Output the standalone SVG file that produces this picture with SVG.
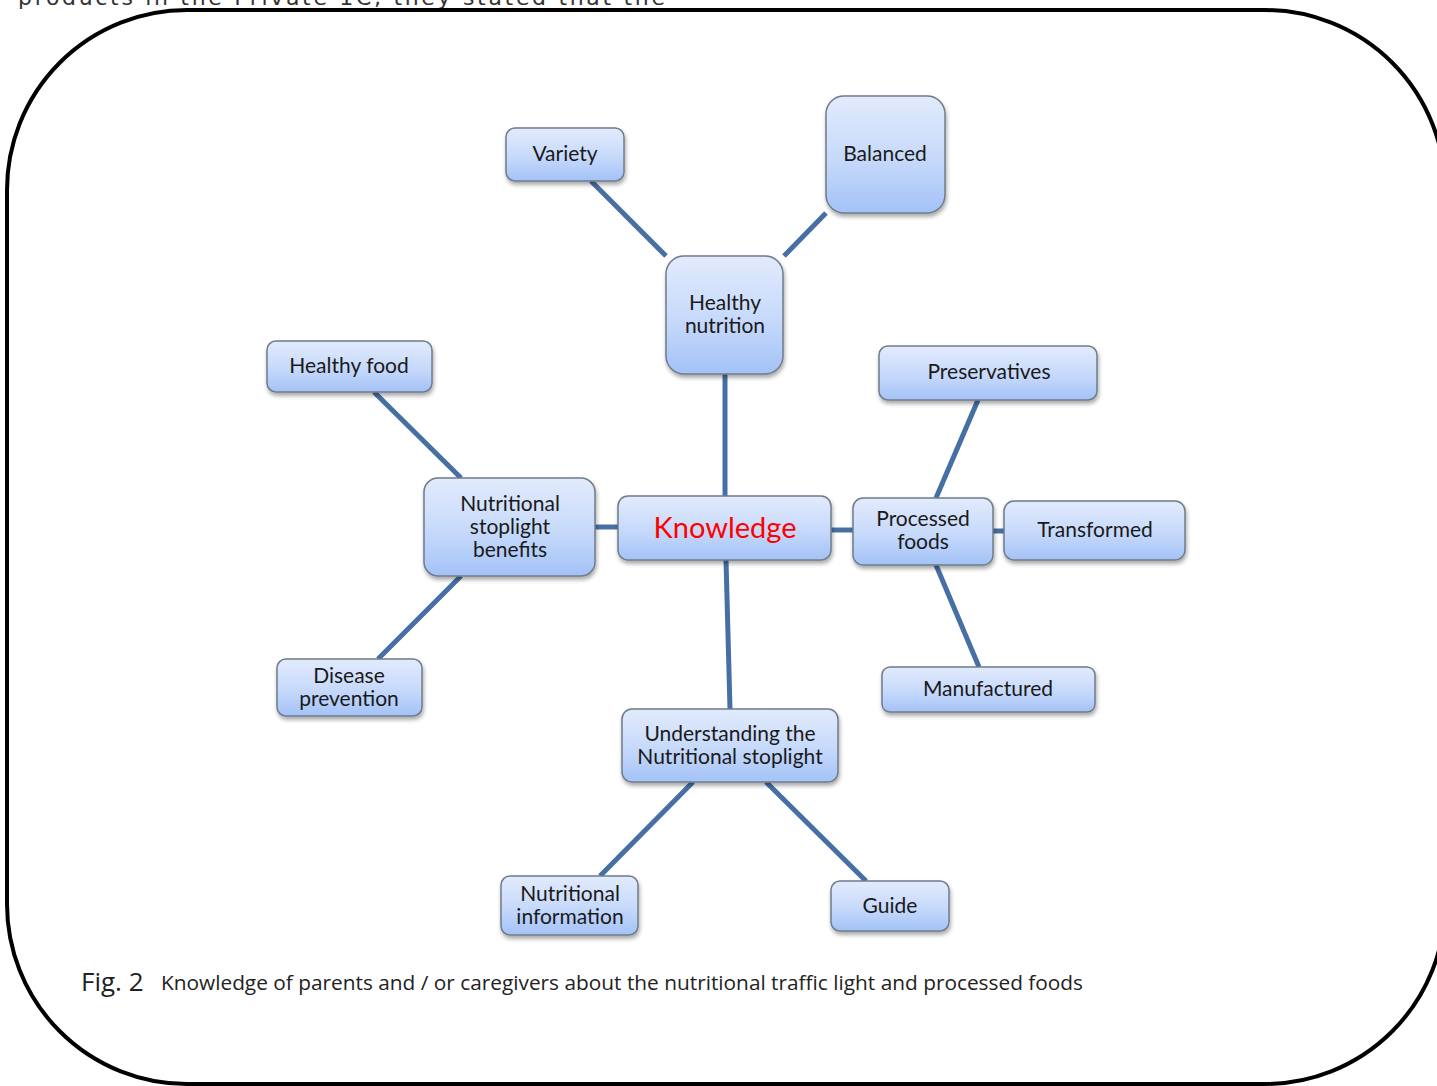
<svg xmlns="http://www.w3.org/2000/svg" width="1437" height="1086" viewBox="0 0 1437 1086">
<defs>
<linearGradient id="g" x1="0" y1="0" x2="0" y2="1">
<stop offset="0" stop-color="#e2ebfc"/>
<stop offset="0.55" stop-color="#c6d9fb"/>
<stop offset="1" stop-color="#a3c2f7"/>
</linearGradient>
<filter id="sh" x="-10%" y="-10%" width="125%" height="130%">
<feGaussianBlur in="SourceAlpha" stdDeviation="2"/>
<feOffset dx="1" dy="3" result="b"/>
<feComponentTransfer><feFuncA type="linear" slope="0.35"/></feComponentTransfer>
<feMerge><feMergeNode/><feMergeNode in="SourceGraphic"/></feMerge>
</filter>
</defs>
<style>
.n rect{fill:url(#g);stroke:#6f7c8a;stroke-width:1.5;filter:url(#sh)}
.n text{font-family:Lato,"Open Sans","Liberation Sans",sans-serif;font-size:21px;fill:#1a1a1a;text-anchor:middle}
.c line{stroke:#4670a3;stroke-width:5}
.cap{font-family:"Open Sans","Liberation Sans",sans-serif;fill:#222}
</style>
<rect width="1437" height="1086" fill="#fff"/>
<text x="18" y="5" font-family="'DejaVu Sans',sans-serif" font-size="22" fill="#333" textLength="647" lengthAdjust="spacing">products  in  the  Private  1C,  they  stated  that  the</text>
<rect x="7" y="10" width="1438" height="1074" rx="180" ry="180" fill="none" stroke="#000" stroke-width="4"/>
<g id="connectors" class="c">
<line x1="591" y1="181" x2="666" y2="256"/>
<line x1="826" y1="213" x2="784" y2="256"/>
<line x1="725" y1="374" x2="725" y2="496"/>
<line x1="374" y1="392" x2="461" y2="478"/>
<line x1="461" y1="576" x2="378" y2="659"/>
<line x1="595" y1="527" x2="618" y2="527"/>
<line x1="831" y1="530" x2="853" y2="530"/>
<line x1="936" y1="498" x2="978" y2="400"/>
<line x1="993" y1="531" x2="1004" y2="531"/>
<line x1="936" y1="565" x2="979" y2="667"/>
<line x1="726" y1="560" x2="730" y2="709"/>
<line x1="693" y1="782" x2="600" y2="876"/>
<line x1="766" y1="782" x2="866" y2="881"/>
</g>
<g id="variety" class="n"><rect x="506" y="128" width="118" height="53" rx="9"/><text x="565" y="161">Variety</text></g>
<g id="balanced" class="n"><rect x="826" y="96" width="119" height="117" rx="18"/><text x="885" y="161">Balanced</text></g>
<g id="healthy-nutrition" class="n"><rect x="666" y="256" width="117" height="118" rx="18"/><text x="725" y="310">Healthy</text><text x="725" y="333">nutrition</text></g>
<g id="healthy-food" class="n"><rect x="267" y="341" width="165" height="51" rx="9"/><text x="349" y="373">Healthy food</text></g>
<g id="nsb" class="n"><rect x="424" y="478" width="171" height="98" rx="14"/><text x="510" y="511">Nutritional</text><text x="510" y="534">stoplight</text><text x="510" y="557">benefits</text></g>
<g id="knowledge" class="n"><rect x="618" y="496" width="213" height="64" rx="10"/><text x="725" y="538" style="font-size:29px;fill:#f00">Knowledge</text></g>
<g id="processed-foods" class="n"><rect x="853" y="498" width="140" height="67" rx="10"/><text x="923" y="526">Processed</text><text x="923" y="549">foods</text></g>
<g id="transformed" class="n"><rect x="1004" y="501" width="181" height="59" rx="10"/><text x="1095" y="537">Transformed</text></g>
<g id="preservatives" class="n"><rect x="879" y="346" width="218" height="54" rx="9"/><text x="989" y="379">Preservatives</text></g>
<g id="manufactured" class="n"><rect x="882" y="667" width="213" height="45" rx="8"/><text x="988" y="696">Manufactured</text></g>
<g id="disease-prevention" class="n"><rect x="277" y="659" width="145" height="57" rx="9"/><text x="349" y="683">Disease</text><text x="349" y="706">prevention</text></g>
<g id="understanding" class="n"><rect x="622" y="709" width="216" height="73" rx="10"/><text x="730" y="741">Understanding the</text><text x="730" y="764">Nutritional stoplight</text></g>
<g id="nutritional-information" class="n"><rect x="501" y="876" width="137" height="59" rx="9"/><text x="570" y="901">Nutritional</text><text x="570" y="924">information</text></g>
<g id="guide" class="n"><rect x="831" y="881" width="118" height="50" rx="9"/><text x="890" y="913">Guide</text></g>
<text class="cap" x="81" y="991" font-size="26">Fig. 2</text>
<text class="cap" x="161" y="990" font-size="20" textLength="922" lengthAdjust="spacingAndGlyphs">Knowledge of parents and / or caregivers about the nutritional traffic light and processed foods</text>
</svg>
